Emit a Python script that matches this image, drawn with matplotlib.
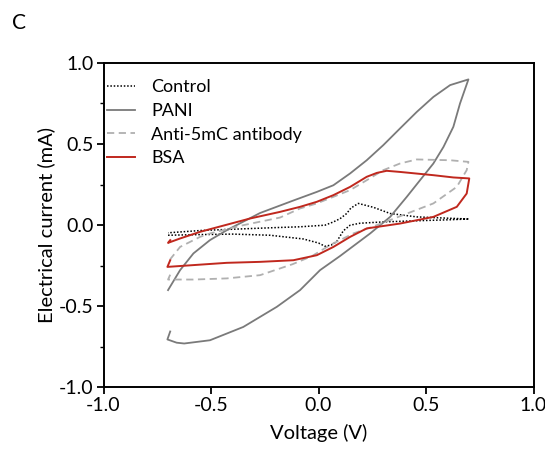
import numpy as np
import matplotlib
matplotlib.use("Agg")
import matplotlib.pyplot as plt
from matplotlib.ticker import MultipleLocator, FormatStrFormatter

plt.rcParams['font.family'] = ['Lato', 'DejaVu Sans']

# cyclic voltammograms, path traced lower branch -> upper branch
control_v = [-0.70, -0.55, -0.40, -0.226, -0.071, 0.00, 0.030, 0.060, 0.085, 0.115, 0.147,
             0.193, 0.30, 0.45, 0.60, 0.70,
             0.60, 0.457, 0.333, 0.255, 0.185, 0.150, 0.131, 0.100, 0.069, 0.030,
             -0.086, -0.20, -0.40, -0.55, -0.70]
control_i = [-0.062, -0.058, -0.055, -0.062, -0.085, -0.110, -0.130, -0.122, -0.100, -0.035, 0.000,
             0.012, 0.020, 0.027, 0.033, 0.038,
             0.043, 0.051, 0.072, 0.110, 0.134, 0.105, 0.072, 0.040, 0.020, 0.000,
             -0.010, -0.015, -0.025, -0.033, -0.047]

pani_v = [-0.69, -0.703, -0.66, -0.625, -0.505, -0.35, -0.194, -0.086, 0.007, 0.10, 0.24,
          0.333, 0.41, 0.472, 0.534, 0.581, 0.627, 0.658, 0.697,
          0.612, 0.534, 0.457, 0.379, 0.301, 0.224, 0.147, 0.069, -0.008, -0.117,
          -0.272, -0.427, -0.505, -0.582, -0.644, -0.70]
pani_i = [-0.655, -0.704, -0.724, -0.729, -0.709, -0.627, -0.503, -0.40, -0.277, -0.19, -0.051,
          0.051, 0.174, 0.277, 0.38, 0.482, 0.606, 0.75, 0.898,
          0.863, 0.79, 0.698, 0.596, 0.493, 0.40, 0.319, 0.246, 0.205, 0.152,
          0.075, -0.031, -0.092, -0.174, -0.277, -0.40]

anti_v = [-0.69, -0.70, -0.582, -0.427, -0.272, -0.12, -0.03, 0.053, 0.162, 0.271, 0.379,
          0.534, 0.643, 0.689, 0.697,
          0.612, 0.457, 0.379, 0.301, 0.224, 0.147, -0.008, -0.086, -0.179, -0.35,
          -0.505, -0.551, -0.644, -0.69]
anti_i = [-0.305, -0.335, -0.335, -0.328, -0.308, -0.24, -0.19, -0.123, -0.051, 0.000, 0.055,
          0.134, 0.236, 0.339, 0.390,
          0.400, 0.405, 0.380, 0.339, 0.277, 0.216, 0.134, 0.103, 0.047, 0.000,
          -0.051, -0.072, -0.134, -0.210]

bsa_v = [-0.69, -0.703, -0.582, -0.427, -0.272, -0.117, -0.008, 0.069, 0.147, 0.224, 0.379,
         0.534, 0.643, 0.689, 0.701,
         0.627, 0.534, 0.379, 0.317, 0.271, 0.224, 0.147, 0.069, -0.008, -0.086,
         -0.179, -0.319, -0.551, -0.644, -0.70, -0.69]
bsa_i = [-0.216, -0.257, -0.246, -0.232, -0.226, -0.216, -0.185, -0.134, -0.072, -0.020, 0.010,
         0.051, 0.113, 0.195, 0.288,
         0.294, 0.308, 0.328, 0.335, 0.322, 0.298, 0.236, 0.185, 0.144, 0.113,
         0.082, 0.041, -0.041, -0.082, -0.109, -0.092]

fig = plt.figure(figsize=(5.45, 4.49), dpi=100)
ax = fig.add_axes([0.19, 0.137, 0.789, 0.723])

ax.plot(control_v, control_i, color='black', lw=1.1, ls=(0, (1, 1.2)), label='Control')
ax.plot(pani_v, pani_i, color='#7a7a7a', lw=1.3, label='PANI')
ax.plot(anti_v, anti_i, color='#b0b0b0', lw=1.3, ls=(0, (4, 2.5)), label='Anti-5mC antibody')
ax.plot(bsa_v, bsa_i, color='#c0281e', lw=1.4, label='BSA')

ax.set_xlim(-1.0, 1.0)
ax.set_ylim(-1.0, 1.0)
ax.xaxis.set_major_locator(MultipleLocator(0.5))
ax.yaxis.set_major_locator(MultipleLocator(0.5))
ax.yaxis.set_minor_locator(MultipleLocator(0.25))
ax.xaxis.set_major_formatter(FormatStrFormatter('%.1f'))
ax.yaxis.set_major_formatter(FormatStrFormatter('%.1f'))
ax.tick_params(axis='both', which='major', direction='out', length=5, width=1.3, labelsize=14, pad=2)
ax.tick_params(axis='y', which='minor', direction='out', length=3, width=1.0)
for s in ax.spines.values():
    s.set_linewidth(1.4)

ax.set_xlabel('Voltage (V)', fontsize=14.5, labelpad=7)
ax.set_ylabel('Electrical current (mA)', fontsize=14.5, labelpad=3)

ax.legend(loc='upper left', bbox_to_anchor=(0.0, 0.96), frameon=False, fontsize=13,
          handlelength=1.55, handletextpad=0.9, labelspacing=0.42,
          borderaxespad=0.0, borderpad=0.2)

fig.text(0.022, 0.935, 'C', fontsize=15)

fig.savefig('out.png', dpi=100)
